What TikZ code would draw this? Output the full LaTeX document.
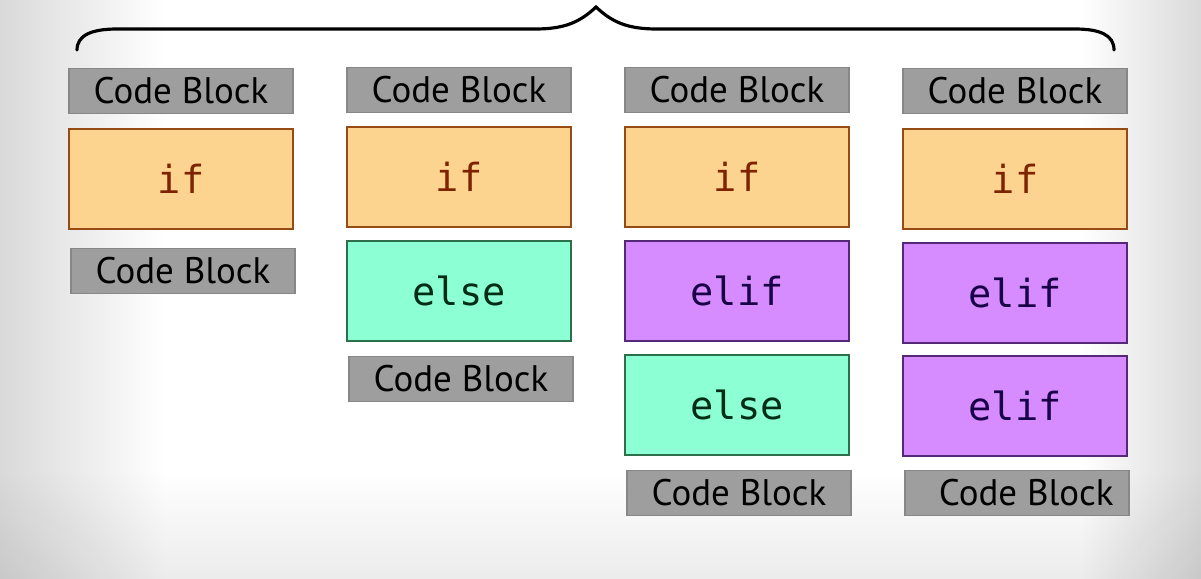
\documentclass[tikz,border=0pt]{standalone}
\usepackage{fontspec}
\setsansfont{PT Sans}
\setmonofont{DejaVu Sans Mono}
\usetikzlibrary{positioning}
\definecolor{blockgray}{RGB}{158, 158, 158}
\definecolor{blockedge}{RGB}{135, 135, 135}
\definecolor{iforange}{RGB}{253, 212, 143}
\definecolor{ifbrown}{RGB}{150, 75, 20}
\definecolor{iftext}{RGB}{125, 35, 0}
\definecolor{elsegreen}{RGB}{140, 255, 212}
\definecolor{elseedge}{RGB}{45, 110, 75}
\definecolor{elsetext}{RGB}{0, 45, 20}
\definecolor{elifpurple}{RGB}{214, 140, 255}
\definecolor{elifedge}{RGB}{85, 40, 120}
\definecolor{eliftext}{RGB}{25, 0, 70}
\definecolor{edgegray}{RGB}{205, 205, 205}
\definecolor{floorgray}{RGB}{230, 230, 230}

\begin{document}
\begin{tikzpicture}[x=0.01cm, y=-0.01cm,
                codeblock/.style={fill=blockgray, draw=blockedge, line width=0.4pt,
                    minimum width=2.24cm, minimum height=0.45cm, inner sep=0pt,
                    font=\sffamily\fontsize{10.5}{13}\selectfont},
                keybox/.style={line width=0.5pt, minimum width=2.24cm, minimum height=1.0cm,
                    inner sep=0pt, font=\ttfamily\fontsize{11}{13}\selectfont},
                ifbox/.style={keybox, fill=iforange, draw=ifbrown, text=iftext},
                elsebox/.style={keybox, fill=elsegreen, draw=elseedge, text=elsetext},
                elifbox/.style={keybox, fill=elifpurple, draw=elifedge, text=eliftext}
            ]
            % background with soft edges
            \useasboundingbox (0, 0) rectangle (1201, 578);
            \fill[white] (0, 0) rectangle (1201, 578);
            \shade[top color=white, bottom color=floorgray] (0, 470) rectangle (1201, 610);
            \shade[left color=edgegray, right color=white, blend mode=multiply] (-55, 0) rectangle (165, 578);
            \shade[left color=white, right color=edgegray, blend mode=multiply] (1081, 0) rectangle (1241, 578);

            % brace
            \draw[line width=0.9pt, line cap=round]
                (77, 50) .. controls (77, 35) and (92, 29) .. (117, 29)
                -- (535, 29) .. controls (565, 29) and (580, 22) .. (596, 7)
                .. controls (612, 22) and (627, 29) .. (657, 29)
                -- (1075, 29) .. controls (1100, 29) and (1114, 35) .. (1114, 50);

            % if
            \node[codeblock] (cbA1) at (181, 91) {Code Block};
            \node[ifbox] (ifA) at (181, 179) {if};
            \node[codeblock] (cbA2) at (183, 271) {Code Block};

            % if / else
            \node[codeblock] (cbB1) at (459, 90) {Code Block};
            \node[ifbox] (ifB) at (459, 177) {if};
            \node[elsebox] (elseB) at (459, 291) {else};
            \node[codeblock] (cbB2) at (461, 379) {Code Block};

            % if / elif / else
            \node[codeblock] (cbC1) at (737, 90) {Code Block};
            \node[ifbox] (ifC) at (737, 177) {if};
            \node[elifbox] (elifC) at (737, 291) {elif};
            \node[elsebox] (elseC) at (737, 405) {else};
            \node[codeblock] (cbC2) at (739, 493) {Code Block};

            % if / elif / elif
            \node[codeblock] (cbD1) at (1015, 91) {Code Block};
            \node[ifbox] (ifD) at (1015, 179) {if};
            \node[elifbox] (elifD1) at (1015, 293) {elif};
            \node[elifbox] (elifD2) at (1015, 406) {elif};
            \node[codeblock] (cbD2) at (1017, 493) {\hspace{0.5em}Code Block};

            \end{tikzpicture}
\end{document}
